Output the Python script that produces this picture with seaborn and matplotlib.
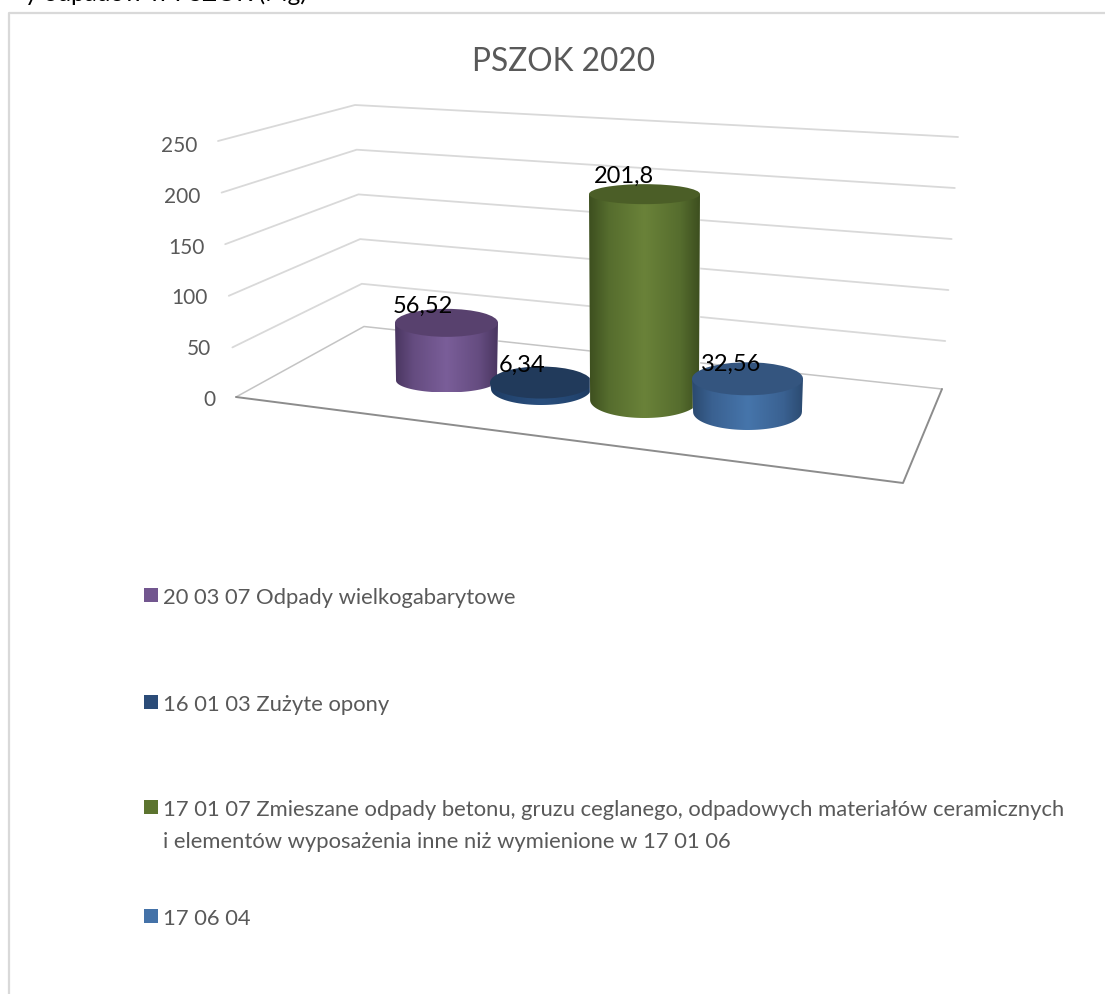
#!/usr/bin/env python3
# -*- coding: utf-8 -*-
import numpy as np
import pandas as pd
import seaborn as sns
import matplotlib.pyplot as plt
from matplotlib.colors import LinearSegmentedColormap
from matplotlib.patches import Ellipse, PathPatch, Rectangle
from matplotlib.path import Path

# Datos
titulo = "PSZOK 2020"
texto_cortado = "y odpadów w PSZOK (Mg)"
codigos = ["20 03 07", "16 01 03", "17 01 07", "17 06 04"]
valores = [56.52, 6.34, 201.8, 32.56]
leyenda = [
    ["20 03 07 Odpady wielkogabarytowe"],
    ["16 01 03 Zużyte opony"],
    ["17 01 07 Zmieszane odpady betonu, gruzu ceglanego, odpadowych materiałów ceramicznych",
     "i elementów wyposażenia inne niż wymienione w 17 01 06"],
    ["17 06 04"],
]
ticks_y = [0, 50, 100, 150, 200, 250]

# Colores: borde, medio, centro, tapa, leyenda
col_borde = ["#4a3661", "#1e3a5f", "#3d4f1f", "#2b4a70"]
col_medio = ["#654c80", "#234570", "#566d2e", "#3a6191"]
col_centro = ["#7a5e99", "#2a4f7e", "#6a8239", "#4675ab"]
col_tapa = ["#58416e", "#213a5b", "#4b5e27", "#34557f"]
col_leyenda = ["#72568f", "#2b4c78", "#5c742f", "#4472a8"]

# Geometria en pixeles de la imagen
ANCHO, ALTO = 1105, 995
ESCALA = 1.02        # px por unidad de valor
CERO_PX = 400        # fila del valor 0 en el eje de las barras
X0_PX = 447          # columna de la primera categoria
PASO_PX = 100        # px entre categorias
dx_barra = [-0.5, -6, -2.5, 0.5]
ancho_barra = [103, 102, 111, 111]
base_barra = [381.5, 390, 401, 413]
elipse_tapa = [14, 16, 10, 16.5]
elipse_base = [12, 16, 18, 18]
etiqueta_px = [(423, 306), (522, 365), (624, 176), (731, 364)]
fila_leyenda = [596, 703, 808, 917]
RENGLON = 32         # px entre renglones de la leyenda
ANGOSTA = 0.98       # la base se ve un poco mas angosta que la tapa

sns.set_theme(style="white")
plt.rcParams["font.family"] = ["Lato", "DejaVu Sans"]

fig = plt.figure(figsize=(ANCHO / 100, ALTO / 100), dpi=100, facecolor="white")

# %% Fondo: marco, paredes y piso
fondo = fig.add_axes([0, 0, 1, 1])
fondo.set_xlim(0, ANCHO)
fondo.set_ylim(ALTO, 0)
fondo.axis("off")

fondo.plot([8.5, 8.5, ANCHO], [ALTO, 14, 14], color="#d9d9d9", lw=1.6)


def esquina(v, abajo, arriba):
    t = v / ticks_y[-1]
    return abajo[0] + t * (arriba[0] - abajo[0]), abajo[1] + t * (arriba[1] - abajo[1])


# lineas de las paredes, de 0 a 250
izq = ((236, 400), (218, 142))
fon = ((363.5, 329.5), (355, 106))
der = ((942, 393), (958, 138))
# piso
piso_izq = (236, 398)
piso_fon = (364, 327.5)
piso_der = (942, 390)
piso_fre = (903, 484)

for v in ticks_y:
    a, b, c = esquina(v, *izq), esquina(v, *fon), esquina(v, *der)
    if v > 0:
        fondo.plot([a[0], b[0], c[0]], [a[1], b[1], c[1]], color="#d9d9d9", lw=1.3)
    fila = 398 - v * (398 - 144) / ticks_y[-1]
    fondo.text(a[0] - 21, fila, str(v), ha="right", va="center_baseline",
               color="#595959", fontsize=15)

fondo.plot([piso_izq[0], piso_fon[0], piso_der[0]], [piso_izq[1], piso_fon[1], piso_der[1]],
           color="#c4c4c4", lw=1.1)
fondo.plot([piso_izq[0], piso_fre[0], piso_der[0]], [piso_izq[1], piso_fre[1], piso_der[1]],
           color="#8c8c8c", lw=1.4)

fondo.text(564, 62, titulo, ha="center", va="center", color="#595959", fontsize=22.8)
fondo.text(25, 1, texto_cortado, ha="left", va="baseline", color="black", fontsize=17.5)

# Leyenda
for fila, renglones, color in zip(fila_leyenda, leyenda, col_leyenda):
    fondo.add_patch(Rectangle((143.5, fila - 7), 14, 14, color=color, lw=0))
    for k, texto in enumerate(renglones):
        fondo.text(163, fila + k * RENGLON, texto, ha="left", va="center_baseline",
                   color="#595959", fontsize=15.8)

# %% Barras
barras = fig.add_axes([0, 0, 1, 1], facecolor="none")
df = pd.DataFrame({"codigo": codigos, "valor": valores})
sns.barplot(data=df, x="codigo", y="valor", hue="codigo", palette=col_medio,
            width=1, legend=False, ax=barras)

lim_x = ((0 - X0_PX) / PASO_PX, (ANCHO - X0_PX) / PASO_PX)
lim_y = ((CERO_PX - ALTO) / ESCALA, CERO_PX / ESCALA)

for i, barra in enumerate(barras.patches):
    centro = barra.get_x() + barra.get_width() / 2 + dx_barra[i] / PASO_PX
    media = ancho_barra[i] / 2 / PASO_PX
    base = (CERO_PX - base_barra[i]) / ESCALA
    cima = base + barra.get_height()
    ry_tapa = elipse_tapa[i] / ESCALA
    ry_base = elipse_base[i] / ESCALA

    barra.set_x(centro - media * ANGOSTA)
    barra.set_width(2 * media * ANGOSTA)
    barra.set_y(base)
    barra.set_zorder(10 * i + 1)

    # cuerpo: lados + arco inferior
    ang = np.linspace(np.pi, 2 * np.pi, 60)
    xs = np.r_[centro - media, centro + media * ANGOSTA * np.cos(ang), centro + media]
    ys = np.r_[cima, base + ry_base * np.sin(ang), cima]
    cuerpo = PathPatch(Path(np.c_[xs, ys]), facecolor="none", edgecolor="none",
                       transform=barras.transData)
    barras.add_patch(cuerpo)

    mapa = LinearSegmentedColormap.from_list(
        "cil", [(0, col_borde[i]), (0.18, col_medio[i]), (0.5, col_centro[i]),
                (0.82, col_medio[i]), (1, col_borde[i])])
    img = barras.imshow(np.linspace(0, 1, 256).reshape(1, -1), cmap=mapa, aspect="auto",
                        extent=(centro - media, centro + media, base - ry_base, cima),
                        zorder=10 * i + 2, interpolation="bilinear")
    img.set_clip_path(cuerpo)

    barras.add_patch(Ellipse((centro, cima), 2 * media, 2 * ry_tapa, facecolor=col_tapa[i],
                             edgecolor="none", zorder=10 * i + 3))

    texto = f"{valores[i]:g}".replace(".", ",")
    ex, ey = etiqueta_px[i]
    barras.text(lim_x[0] + ex / PASO_PX, (CERO_PX - ey) / ESCALA, texto, ha="center",
                va="center", color="black", fontsize=17, zorder=100)

barras.set_xlim(*lim_x)
barras.set_ylim(*lim_y)
barras.axis("off")

plt.savefig("out.png", dpi=100)
